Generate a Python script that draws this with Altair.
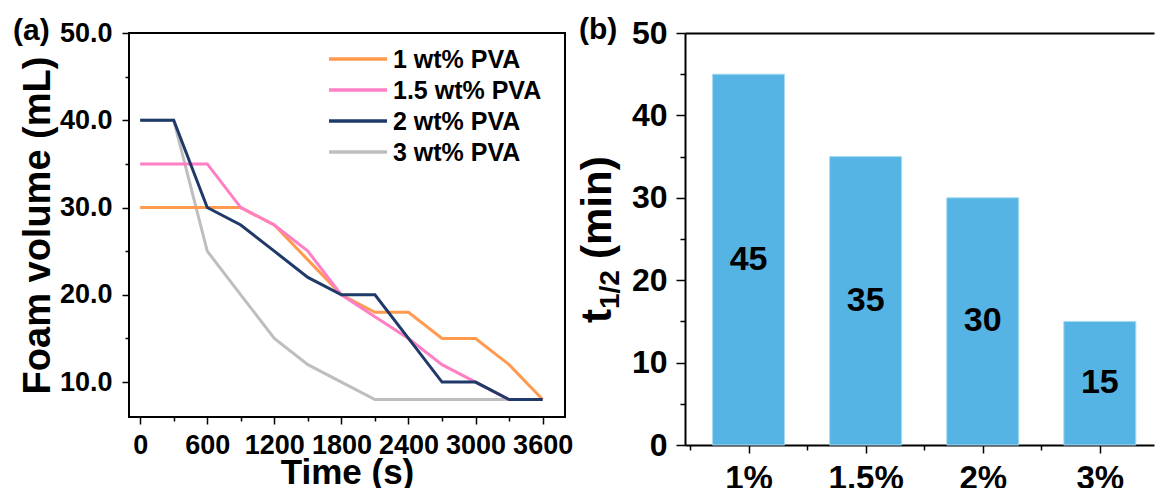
import altair as alt
import pandas as pd

# ---------------- data ----------------
time_s = [0, 300, 600, 900, 1200, 1500, 1800, 2100, 2400, 2700, 3000, 3300, 3600]
pva_1 = [30, 30, 30, 30, 28, 24, 20, 18, 18, 15, 15, 12, 8]
pva_15 = [35, 35, 35, 30, 28, 25, 20, 17.5, 15, 12, 10, 8, 8]
pva_2 = [40, 40, 30, 28, 25, 22, 20, 20, 15, 10, 10, 8, 8]
pva_3 = [40, 40, 25, 20, 15, 12, 10, 8, 8, 8, 8, 8, 8]

series_names = ["1 wt% PVA", "1.5 wt% PVA", "2 wt% PVA", "3 wt% PVA"]
series_colors = ["#FF9A4F", "#FF7FC4", "#1F3A68", "#BEBEBE"]
draw_order = ["3 wt% PVA", "1 wt% PVA", "1.5 wt% PVA", "2 wt% PVA"]

x_major = [0, 600, 1200, 1800, 2400, 3000, 3600]
x_minor = [300, 900, 1500, 2100, 2700, 3300]
y_major = [10, 20, 30, 40, 50]
y_minor = [15, 25, 35, 45]

conc_labels = ["1%", "1.5%", "2%", "3%"]
t_half = [45, 35, 30, 15]
bar_y_major = [0, 10, 20, 30, 40, 50]
bar_y_minor = [5, 15, 25, 35, 45]

FONT = "Liberation Sans"

rows = []
for name, vals in zip(series_names, [pva_1, pva_15, pva_2, pva_3]):
    for t, v in zip(time_s, vals):
        rows.append({"time": t, "vol": v, "series": name})
df_lines = pd.DataFrame(rows)
df_legend = pd.DataFrame({"series": series_names})

df_bar = pd.DataFrame({"idx": list(range(1, len(conc_labels) + 1)),
                       "conc": conc_labels, "t": t_half})

# ---------------- left panel ----------------
xs = alt.Scale(domain=[-100, 3800], nice=False, zero=False)
ys = alt.Scale(domain=[6, 50], nice=False, zero=False)
cscale = alt.Scale(domain=series_names, range=series_colors)

line_base = alt.Chart(df_lines).mark_line(strokeWidth=3).encode(
    x=alt.X("time:Q", scale=xs, axis=None),
    y=alt.Y("vol:Q", scale=ys, axis=None),
    color=alt.Color("series:N", scale=cscale, legend=None),
)
line_layers = [line_base.transform_filter(alt.datum.series == s) for s in draw_order]

# legend drawn inside the plot
leg_y = alt.Y("series:N", scale=alt.Scale(type="point", domain=series_names, range=[26, 119],
                                          padding=0), axis=None)
leg_rule = alt.Chart(df_legend).mark_rule(strokeWidth=3.5).encode(
    x=alt.value(200), x2=alt.value(258), y=leg_y,
    color=alt.Color("series:N", scale=cscale, legend=None))
leg_text = alt.Chart(df_legend).mark_text(
    font=FONT, fontSize=25, fontWeight="bold", color="black", align="left",
    baseline="middle", dy=1).encode(x=alt.value(264), y=leg_y, text="series:N")

axis_style = dict(domain=False, tickColor="black", tickWidth=1.5,
                  labelFont=FONT, labelFontWeight="bold", labelColor="black",
                  titleFont=FONT, titleFontWeight="bold", titleColor="black", grid=False)

axes_major = alt.Chart(df_lines).mark_point(opacity=0).encode(
    x=alt.X("time:Q", scale=xs,
            axis=alt.Axis(values=x_major, format="d", title="Time (s)", tickSize=7,
                          labelFontSize=27, labelPadding=8, titleFontSize=35,
                          titlePadding=-3, labelFlush=False, labelOverlap=False, **axis_style)),
    y=alt.Y("vol:Q", scale=ys,
            axis=alt.Axis(values=y_major, format=".1f", title="Foam volume (mL)", tickSize=7,
                          labelFontSize=27, labelPadding=10, titleFontSize=38,
                          titlePadding=2, labelFlush=False, labelOverlap=False, **axis_style)),
)
axes_minor = alt.Chart(df_lines).mark_point(opacity=0).encode(
    x=alt.X("time:Q", scale=xs,
            axis=alt.Axis(values=x_minor, labels=False, title=None, tickSize=4,
                          orient="bottom", **axis_style)),
    y=alt.Y("vol:Q", scale=ys,
            axis=alt.Axis(values=y_minor, labels=False, title=None, tickSize=4,
                          orient="left", **axis_style)),
)
label_a = alt.Chart(pd.DataFrame({"t": ["(a)"]})).mark_text(
    font=FONT, fontSize=30, fontWeight="bold", align="left", baseline="alphabetic",
    color="black").encode(text="t:N", x=alt.value(-116), y=alt.value(7))

left = alt.layer(axes_major, axes_minor, *line_layers, leg_rule, leg_text, label_a).resolve_axis(
    x="independent", y="independent").resolve_scale(y="independent").properties(
    width=436, height=384,
    view=alt.ViewBackground(stroke="black", strokeWidth=2))

# ---------------- right panel ----------------
bxs = alt.Scale(domain=[0.5, 4.42], nice=False, zero=False)
bys = alt.Scale(domain=[0, 50], nice=False)
label_expr = "[" + ",".join("'" + c + "'" for c in conc_labels) + "][datum.value - 1]"

axis_style_dom = {k: v for k, v in axis_style.items() if k != "domain"}

bars = alt.Chart(df_bar).mark_bar(size=72, color="#56B4E4", stroke="#A9DAF2",
                                  strokeWidth=1).encode(
    x=alt.X("idx:Q", scale=bxs,
            axis=alt.Axis(values=list(range(1, len(conc_labels) + 1)), labelExpr=label_expr,
                          title=None, tickSize=8, labelFontSize=33, labelPadding=9,
                          domain=True, domainColor="black", domainWidth=2,
                          labelFlush=False, labelOverlap=False, **axis_style_dom)),
    y=alt.Y("t:Q", scale=bys,
            axis=alt.Axis(values=bar_y_major, format="d", title=None, tickSize=9,
                          labelFontSize=32, labelPadding=9,
                          domain=True, domainColor="black", domainWidth=2,
                          labelFlush=False, labelOverlap=False, **axis_style_dom)),
)
bar_minor = alt.Chart(df_bar).mark_point(opacity=0).encode(
    x=alt.X("idx:Q", scale=bxs,
            axis=alt.Axis(values=[0.5, 1.5, 2.5, 3.5], labels=False, title=None, tickSize=5,
                          orient="bottom", **axis_style)),
    y=alt.Y("t:Q", scale=bys,
            axis=alt.Axis(values=bar_y_minor, labels=False, title=None, tickSize=5,
                          orient="left", **axis_style)),
)
bar_top = alt.Chart(df_bar).mark_point(opacity=0).encode(
    x=alt.X("idx:Q", scale=bxs,
            axis=alt.Axis(orient="top", labels=False, ticks=False, title=None,
                          domain=True, domainColor="black", domainWidth=2, grid=False)),
    y=alt.Y("t:Q", scale=bys, axis=None),
)
bar_text = alt.Chart(df_bar).transform_calculate(mid="datum.t / 2").mark_text(
    font=FONT, fontSize=34, fontWeight="bold", color="black", baseline="middle").encode(
    x=alt.X("idx:Q", scale=bxs, axis=None),
    y=alt.Y("mid:Q", scale=bys, axis=None),
    text=alt.Text("t:Q", format="d"),
)

title_style = dict(font=FONT, fontWeight="bold", color="black", angle=270,
                   align="left", baseline="alphabetic")
t_main = alt.Chart(pd.DataFrame({"s": ["t"]})).mark_text(fontSize=42, **title_style).encode(
    text="s:N", x=alt.value(-74), y=alt.value(290))
t_sub = alt.Chart(pd.DataFrame({"s": ["1/2"]})).mark_text(fontSize=28, **title_style).encode(
    text="s:N", x=alt.value(-66), y=alt.value(276))
t_unit = alt.Chart(pd.DataFrame({"s": ["(min)"]})).mark_text(fontSize=42, **title_style).encode(
    text="s:N", x=alt.value(-74), y=alt.value(226))
label_b = alt.Chart(pd.DataFrame({"t": ["(b)"]})).mark_text(
    font=FONT, fontSize=30, fontWeight="bold", align="left", baseline="alphabetic",
    color="black").encode(text="t:N", x=alt.value(-106), y=alt.value(6))

right = alt.layer(bars, bar_minor, bar_top, bar_text, t_main, t_sub, t_unit, label_b).resolve_axis(
    x="independent", y="independent").properties(
    width=469, height=412,
    view=alt.ViewBackground(stroke="transparent"))

chart = alt.hconcat(left, right, spacing=2).properties(
    padding={"left": 12, "top": 14, "right": 0, "bottom": 0},
    background="white",
).configure_view(stroke="black")

chart.save("out.html", embed_options={"renderer": "svg", "actions": False})
